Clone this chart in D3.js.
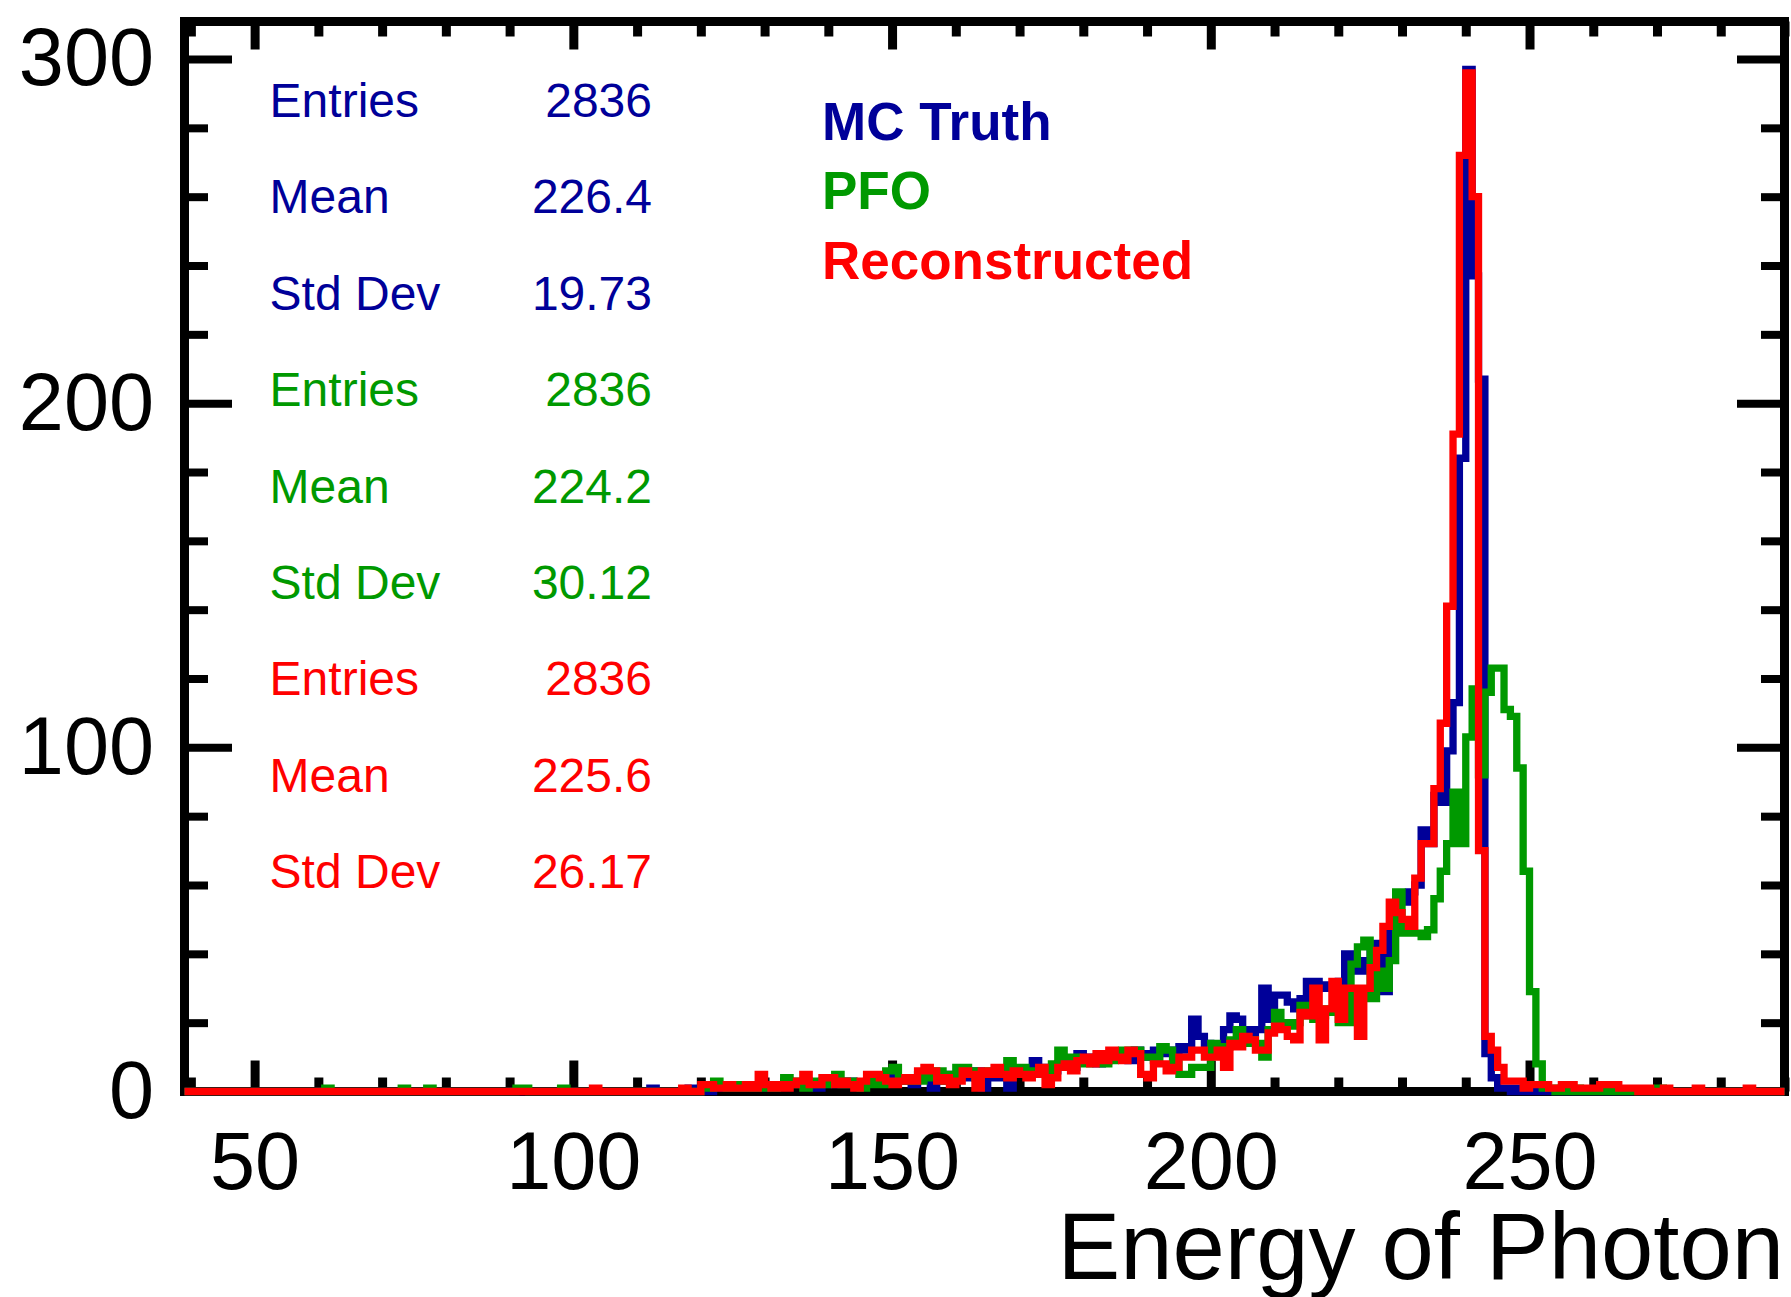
<!DOCTYPE html>
<html>
<head>
<meta charset="utf-8">
<script src="https://cdnjs.cloudflare.com/ajax/libs/d3/7.8.5/d3.min.js"></script>
<style>
  body { margin: 0; background: #fff; }
  svg { display: block; }
  text { font-family: "Liberation Sans", Arial, Helvetica, sans-serif; }
</style>
</head>
<body>
<svg id="chart" width="1791" height="1297"></svg>
<script>
// ---------------- data ----------------
const binLow = 39;          // lower edge of the first bin (GeV)
const binWidth = 1;         // bin width (GeV)
// counts per bin, first entry = bin [39,40), then rows of ten starting at 40, 50, ... 280
const mcTruth = [0,
  0,0,0,0,0,0,0,0,0,0,   0,0,0,0,0,0,0,0,0,0,   0,0,0,0,0,0,0,0,0,0,
  0,0,0,0,0,0,0,0,0,0,   0,0,0,0,0,0,0,0,0,0,   0,0,0,0,0,0,0,0,0,0,
  0,0,0,0,0,0,0,0,0,0,   0,0,1,0,0,0,0,0,1,0,
  1,0,1,2,1,1,2,1,2,1,   2,1,2,3,2,2,3,2,1,3,   2,3,2,3,2,2,3,4,3,4,
  3,4,3,2,5,4,1,4,3,5,   4,5,4,6,1,5,4,5,1,6,   6,5,9,5,7,6,8,8,7,11,
  9,10,8,9,10,11,10,9,12,11,   10,12,11,12,11,13,12,21,16,14,
  13,12,18,22,21,18,17,18,30,21,   28,28,26,24,27,32,32,31,30,30,
  32,40,36,35,38,42,43,29,47,57,   55,58,60,76,72,86,84,99,113,184,
  297,237,207,11,4,1,1,0,1,0,   0,0,0,0,0,1,0,0,0,0,
  0,0,0,0,0,0,0,0,0,0,   0,0,0,0,0,0,0,0,0,0,   0,0,0,0,0,0,0,0,0,0];
const pfo = [0,
  0,0,0,0,0,0,0,0,0,0,   0,0,0,0,0,0,0,0,0,0,   0,1,0,0,0,0,0,0,0,0,
  0,0,0,1,0,0,0,1,0,0,   0,0,0,0,0,0,0,0,0,0,   0,1,1,0,0,0,0,0,1,0,
  0,0,0,0,0,0,0,0,0,0,   0,0,0,0,0,0,0,0,0,0,
  1,1,3,2,1,2,1,2,1,1,   2,1,2,4,3,2,1,3,2,2,   3,5,2,3,2,1,2,3,2,6,
  7,4,3,4,3,5,4,6,3,5,   7,7,6,4,5,6,5,6,9,7,   7,6,6,6,6,8,12,10,10,9,
  8,9,10,8,9,10,12,12,12,10,   10,9,13,12,8,5,5,7,7,7,
  14,13,13,15,18,14,15,14,10,18,   23,20,19,20,25,22,21,22,24,23,
  20,20,37,42,44,27,35,30,38,58,   46,46,46,45,47,56,64,72,87,72,
  103,117,92,116,123,123,111,109,94,64,   29,8,1,1,0,1,0,1,0,0,
  0,0,1,0,0,0,0,0,0,0,   1,0,0,0,0,0,0,0,0,0,   0,0,0,0,0,0,0,0,0,0];
const reconstructed = [0,
  0,0,0,0,0,0,0,0,0,0,   0,0,0,0,0,0,0,0,0,0,   0,0,0,0,0,0,0,0,0,0,
  0,0,0,0,0,0,0,0,0,0,   0,0,0,0,0,0,0,0,0,0,   0,0,0,0,0,0,0,0,0,0,
  0,0,0,1,0,0,0,0,0,0,   0,0,0,0,0,0,0,1,0,0,
  2,2,1,1,2,1,1,2,1,5,   2,1,2,1,2,3,5,2,2,4,   4,2,3,2,1,3,5,5,4,3,
  2,3,4,3,6,7,6,3,4,2,   3,6,5,1,6,5,7,5,4,6,   5,4,5,7,2,4,7,8,6,9,
  10,8,11,9,12,10,9,12,11,5,   4,8,8,6,7,10,10,12,12,10,
  10,12,7,14,13,16,15,12,12,17,   19,18,16,15,23,22,30,15,24,32,
  21,30,30,16,30,36,41,48,55,52,   50,48,62,72,72,88,107,141,191,272,
  296,260,70,16,12,7,3,3,3,1,   2,2,2,1,1,2,2,1,1,1,
  1,2,2,2,1,1,1,0,1,0,   0,1,0,0,0,0,1,0,0,0,   0,0,0,0,1,0,0,0,0,0];

const seriesNames  = ["MC Truth", "PFO", "Reconstructed"];
const seriesColors = ["#000099", "#009900", "#ff0000"];
const seriesData   = [mcTruth, pfo, reconstructed];
const statLabels   = ["Entries", "Mean", "Std Dev"];
const statValues   = [["2836", "226.4", "19.73"], ["2836", "224.2", "30.12"], ["2836", "225.6", "26.17"]];

const xDomain = [39, 290];
const yDomain = [0, 310.9];
const xMajor = [50, 100, 150, 200, 250];
const xMinor = d3.range(40, 291, 10).filter(v => !xMajor.includes(v));
const yMajor = [0, 100, 200, 300];
const yMinor = d3.range(20, 301, 20).filter(v => !yMajor.includes(v));
const xTitle = "Energy of Photon";

// ---------------- layout ----------------
const L = 184.5, R = 1784.5, T = 21.5, B = 1091.5;
const svg = d3.select("#chart");
const x = d3.scaleLinear().domain(xDomain).range([L, R]);
const y = d3.scaleLinear().domain(yDomain).range([B, T]);

// frame
svg.append("rect").attr("x", L).attr("y", T).attr("width", R - L).attr("height", B - T)
  .attr("fill", "none").attr("stroke", "#000").attr("stroke-width", 9);

function styleAxis(g, w) {
  g.select(".domain").remove();
  g.selectAll(".tick line").attr("stroke", "#000").attr("stroke-width", w);
  g.selectAll("text").attr("fill", "#000").style("font-size", "81px")
    .style("font-family", '"Liberation Sans", Arial, Helvetica, sans-serif');
}

// bottom
svg.append("g").attr("transform", `translate(0,${B})`)
  .call(d3.axisBottom(x).tickValues(xMajor).tickSizeInner(-31).tickSizeOuter(0).tickPadding(39.5).tickFormat(d3.format("d")))
  .call(g => styleAxis(g, 9));
svg.append("g").attr("transform", `translate(0,${B})`)
  .call(d3.axisBottom(x).tickValues(xMinor).tickSizeInner(-14).tickSizeOuter(0).tickFormat(""))
  .call(g => styleAxis(g, 9));
// top
svg.append("g").attr("transform", `translate(0,${T})`)
  .call(d3.axisTop(x).tickValues(xMajor).tickSizeInner(-28).tickSizeOuter(0).tickFormat(""))
  .call(g => styleAxis(g, 9));
svg.append("g").attr("transform", `translate(0,${T})`)
  .call(d3.axisTop(x).tickValues(xMinor).tickSizeInner(-15).tickSizeOuter(0).tickFormat(""))
  .call(g => styleAxis(g, 9));
// left
svg.append("g").attr("transform", `translate(${L},0)`)
  .call(d3.axisLeft(y).tickValues(yMajor).tickSizeInner(-47.5).tickSizeOuter(0).tickPadding(30.5).tickFormat(d3.format("d")))
  .call(g => styleAxis(g, 8));
svg.append("g").attr("transform", `translate(${L},0)`)
  .call(d3.axisLeft(y).tickValues(yMinor).tickSizeInner(-23.5).tickSizeOuter(0).tickFormat(""))
  .call(g => styleAxis(g, 8));
// right
svg.append("g").attr("transform", `translate(${R},0)`)
  .call(d3.axisRight(y).tickValues(yMajor).tickSizeInner(-47.5).tickSizeOuter(0).tickFormat(""))
  .call(g => styleAxis(g, 8));
svg.append("g").attr("transform", `translate(${R},0)`)
  .call(d3.axisRight(y).tickValues(yMinor).tickSizeInner(-23.5).tickSizeOuter(0).tickFormat(""))
  .call(g => styleAxis(g, 8));

// histograms
const line = d3.line().x(d => x(d.e)).y(d => y(d.c)).curve(d3.curveStepAfter);
seriesData.forEach((arr, k) => {
  const pts = arr.map((c, i) => ({ e: binLow + i * binWidth, c }));
  pts.push({ e: binLow + arr.length * binWidth, c: arr[arr.length - 1] });
  svg.append("path").datum(pts).attr("d", line)
    .attr("fill", "none").attr("stroke", seriesColors[k]).attr("stroke-width", 7.3)
    .attr("stroke-linejoin", "miter").attr("stroke-linecap", "butt");
});

// stats boxes
const statX1 = 269.6, statX2 = 652, statY0 = 117, statDy = 96.4;
seriesData.forEach((arr, k) => {
  statLabels.forEach((lab, j) => {
    const yy = statY0 + (k * 3 + j) * statDy;
    svg.append("text").attr("x", statX1).attr("y", yy).attr("fill", seriesColors[k])
      .style("font-size", "48px").text(lab);
    svg.append("text").attr("x", statX2).attr("y", yy).attr("fill", seriesColors[k])
      .attr("text-anchor", "end").style("font-size", "48px").text(statValues[k][j]);
  });
});

// legend
const legY = [140, 209, 278.5];
seriesNames.forEach((n, k) => {
  svg.append("text").attr("x", 822).attr("y", legY[k]).attr("fill", seriesColors[k])
    .style("font-size", "53px").style("font-weight", "bold").text(n);
});

// x title
svg.append("text").attr("x", 1784).attr("y", 1279).attr("text-anchor", "end")
  .attr("fill", "#000").style("font-size", "94px").text(xTitle);
</script>
</body>
</html>
